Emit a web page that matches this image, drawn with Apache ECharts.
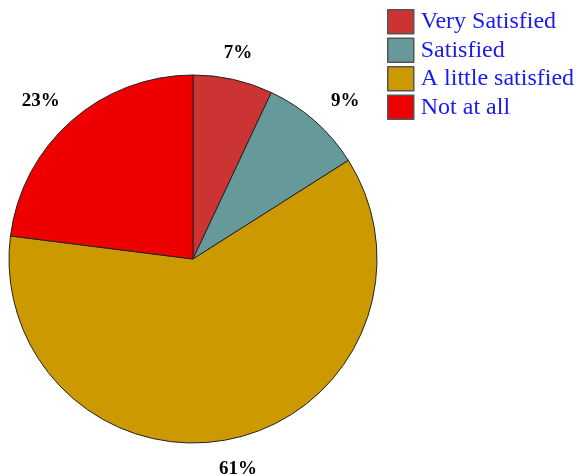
<!DOCTYPE html>
<html>
<head>
<meta charset="utf-8">
<script src="https://cdn.jsdelivr.net/npm/echarts@6/dist/echarts.min.js"></script>
<style>
  html, body { margin: 0; padding: 0; background: #fff; }
  #chart { width: 576px; height: 475px; }
</style>
</head>
<body>
<div id="chart"></div>
<script>
const categories = ['Very Satisfied', 'Satisfied', 'A little satisfied', 'Not at all']
const shares = [7, 9, 61, 23]
const colors = ['#cc3333', '#669999', '#cc9900', '#ee0000']

const cx = 193
const cy = 259
const r = 184
const total = shares.reduce((a, b) => a + b, 0)

// mid angle of each slice, clockwise from 12 o'clock
function midAngle (i) {
  let before = 0
  for (let k = 0; k < i; k++) before += shares[k]
  return ((before + shares[i] / 2) / total) * Math.PI * 2
}

const chart = echarts.init(document.getElementById('chart'))
chart.setOption({
  animation: false,
  color: colors,
  legend: {
    orient: 'vertical',
    left: 382,
    top: 4,
    itemWidth: 26,
    itemHeight: 24,
    itemGap: 3,
    icon: 'rect',
    itemStyle: { borderColor: '#555', borderWidth: 1.5 },
    textStyle: {
      color: '#1a1aee',
      fontFamily: 'Liberation Serif',
      fontSize: 24,
      lineHeight: 24,
      padding: [0, 0, 0, 2]
    },
    data: categories
  },
  series: [{
    type: 'pie',
    center: [cx, cy],
    radius: r,
    startAngle: 90,
    clockwise: true,
    itemStyle: { borderColor: '#222', borderWidth: 1 },
    label: {
      show: true,
      position: 'outside',
      formatter: '{c}%',
      color: '#000',
      fontFamily: 'Liberation Serif',
      fontWeight: 'bold',
      fontSize: 19,
      overflow: 'none'
    },
    labelLine: { show: false },
    labelLayout: (params) => {
      const a = midAngle(params.dataIndex)
      const s = Math.sin(a)
      // wider horizontally: labels sit further out to the sides
      return {
        x: cx + s * (194 + 55 * Math.abs(s)),
        y: cy - 213 * Math.cos(a) + 2,
        align: 'center',
        verticalAlign: 'middle'
      }
    },
    emphasis: { disabled: true },
    data: categories.map((name, i) => ({ name, value: shares[i] }))
  }]
})
</script>
</body>
</html>
